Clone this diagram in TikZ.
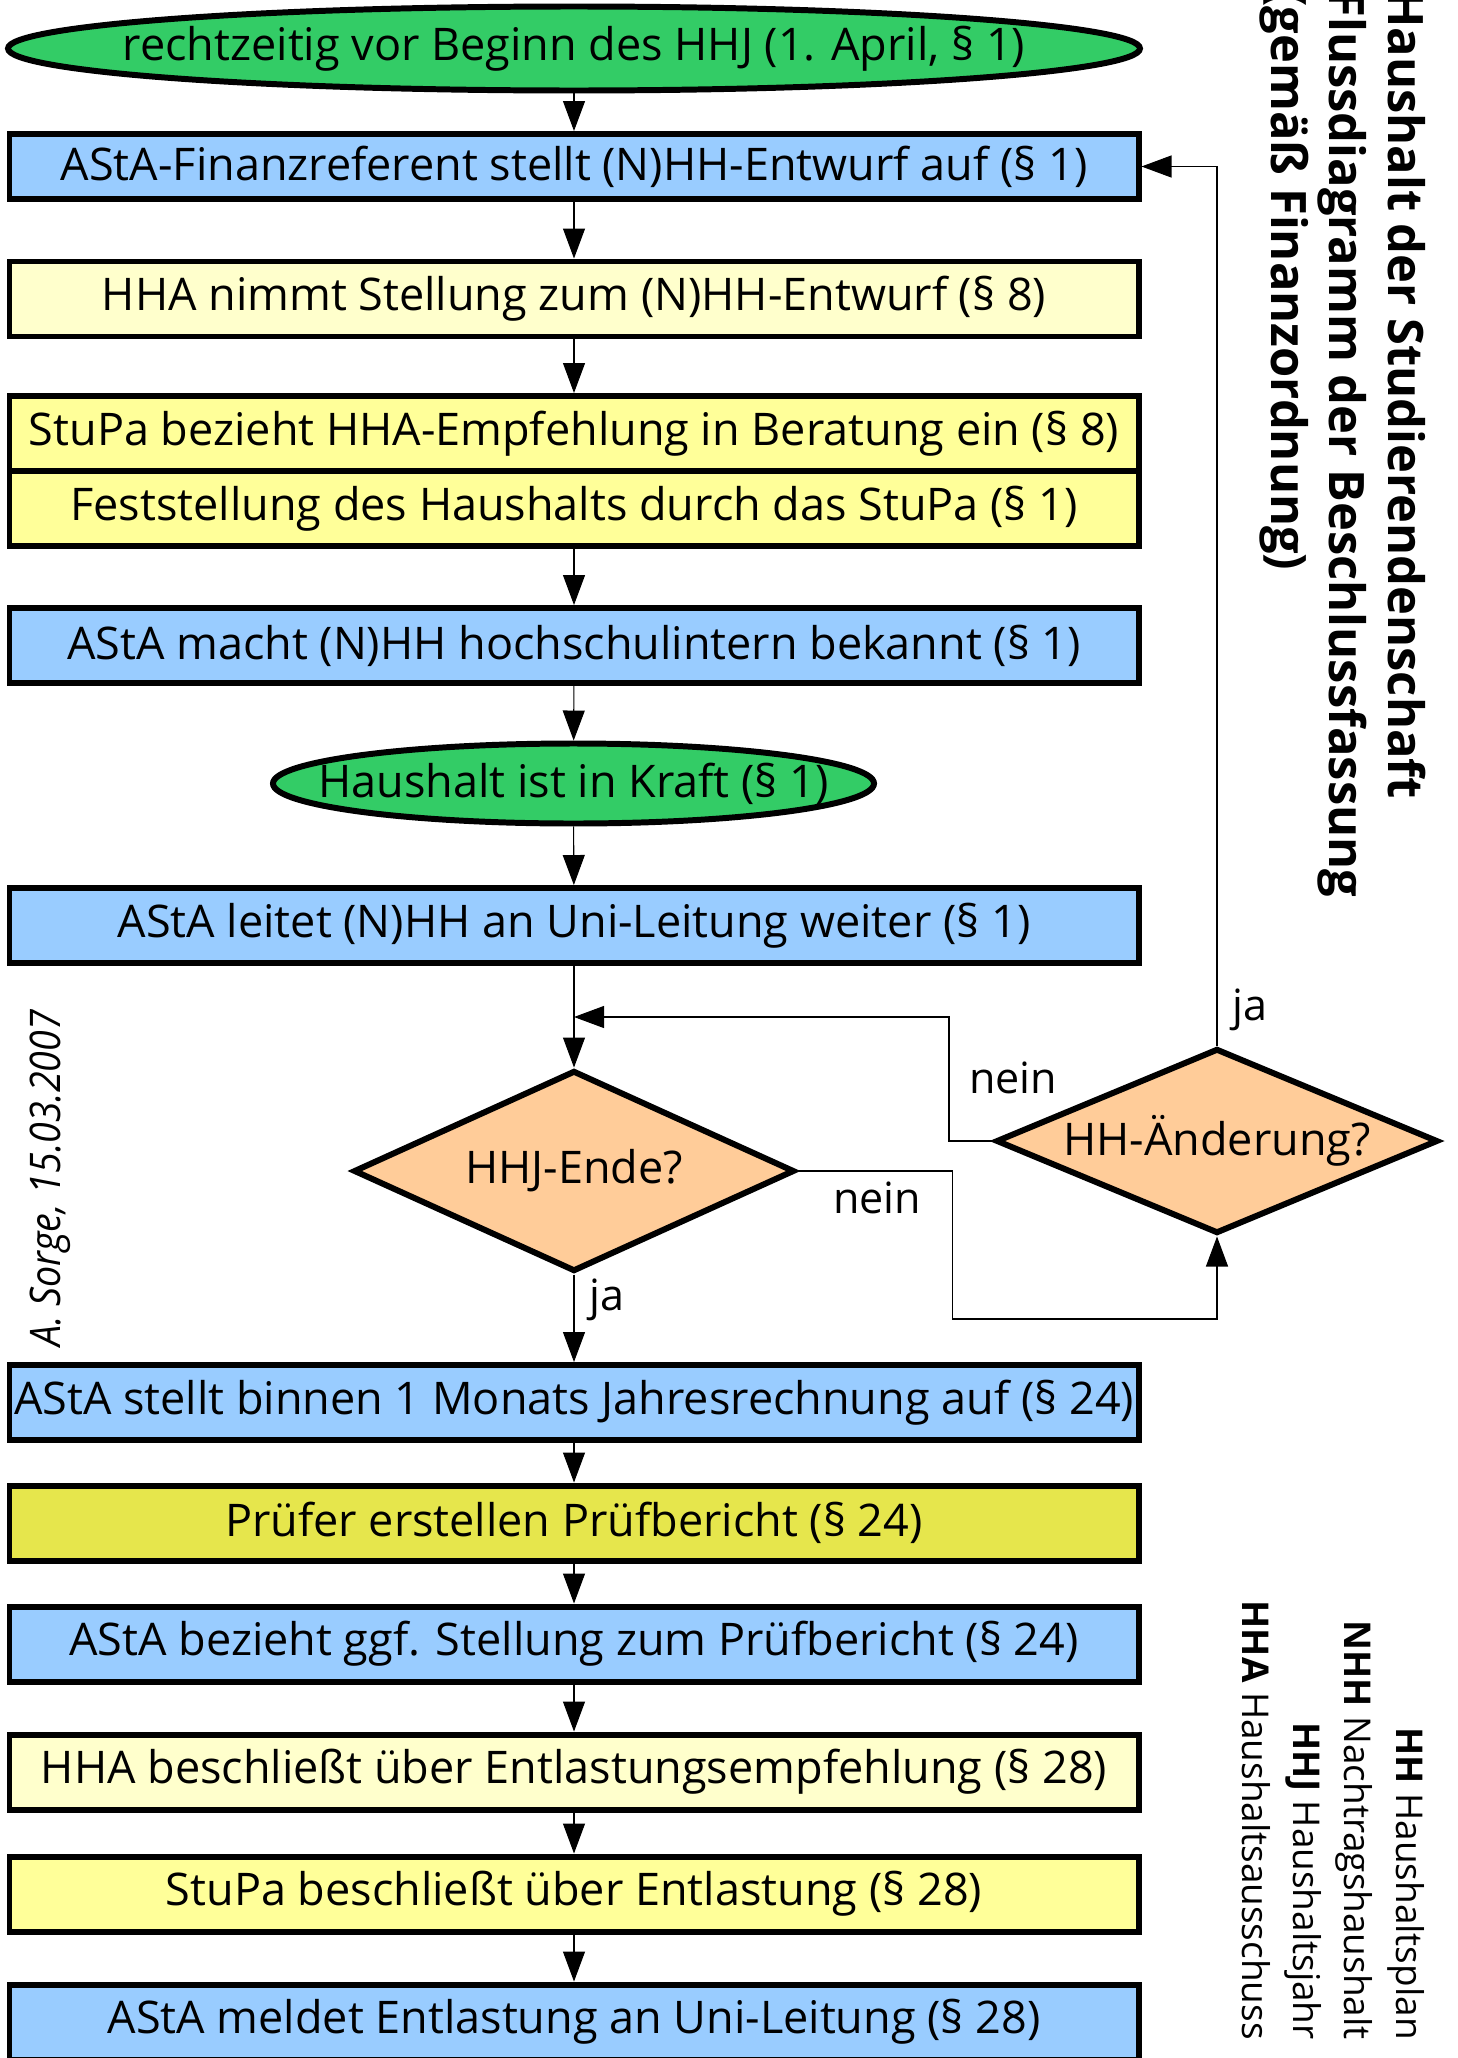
\documentclass[tikz,border=0pt]{standalone}
\usepackage{fontspec}
\setmainfont{Open Sans}
\newfontfamily\authorfont[FakeStretch=0.89]{Open Sans}
\usepackage{tikz}
\usetikzlibrary{positioning}
\usetikzlibrary{shapes.geometric}
\usetikzlibrary{arrows.meta}
\definecolor{startgreen}{HTML}{33CC66}
\definecolor{astablue}{HTML}{99CCFF}
\definecolor{hhayellow}{HTML}{FFFFCC}
\definecolor{stupayellow}{HTML}{FFFF99}
\definecolor{pruefyellow}{HTML}{E6E64C}
\definecolor{askorange}{HTML}{FFCC99}
\tikzset{
  box/.style={draw, line width=3.4pt, minimum width=22.58cm, minimum height=1.5cm,
    inner sep=0pt, font=\fontsize{25.6}{30}\selectfont},
  term/.style={ellipse, draw, line width=3.4pt, fill=startgreen, inner xsep=-3cm,
    inner ysep=-0.6cm, font=\fontsize{25.6}{30}\selectfont},
  ask/.style={diamond, draw, line width=3.4pt, fill=askorange, inner sep=0pt,
    font=\fontsize{25.6}{30}\selectfont},
  flow/.style={-{Triangle[length=0.6cm,width=0.44cm]}, line width=0.6pt},
  lbl/.style={font=\fontsize{24.5}{29}\selectfont},
  heading/.style={rotate=-90, anchor=base west, inner sep=0pt,
    font=\bfseries\fontsize{27.8}{33}\selectfont},
  legend/.style={rotate=-90, anchor=base east, inner sep=0pt,
    font=\fontsize{21}{25}\selectfont}
}

\begin{document}
\begin{tikzpicture}
\useasboundingbox (0,0) rectangle (29.14,-41.16);

% Ablauf bis zum Inkrafttreten
\node[term, minimum width=22.64cm, minimum height=1.68cm] (start) at (11.48,-0.97) {rechtzeitig vor Beginn des HHJ (1. April, § 1)};
\node[box, fill=astablue, minimum height=1.3cm] (entwurf) at (11.48,-3.33) {AStA-Finanzreferent stellt (N)HH-Entwurf auf (§ 1)};
\node[box, fill=hhayellow] (stellung) at (11.48,-5.98) {HHA nimmt Stellung zum (N)HH-Entwurf (§ 8)};
\node[box, fill=stupayellow] (beratung) at (11.48,-8.67) {StuPa bezieht HHA-Empfehlung in Beratung ein (§ 8)};
\node[box, fill=stupayellow, below=-3.4pt of beratung] (feststellung) {Feststellung des Haushalts durch das StuPa (§ 1)};
\node[box, fill=astablue] (bekannt) at (11.48,-12.91) {AStA macht (N)HH hochschulintern bekannt (§ 1)};
\node[term, minimum width=12.02cm, minimum height=1.6cm] (inkraft) at (11.47,-15.67) {Haushalt ist in Kraft (§ 1)};
\node[box, fill=astablue] (weiter) at (11.48,-18.51) {AStA leitet (N)HH an Uni-Leitung weiter (§ 1)};

% Entscheidungen
\node[ask, aspect=2.2, minimum width=8.82cm, minimum height=4.02cm] (ende) at (11.48,-23.42) {HHJ-Ende?};
\node[ask, aspect=2.4, minimum width=8.84cm, minimum height=3.7cm] (aenderung) at (24.34,-22.82) {HH-Änderung?};

% Abschluss des Haushaltsjahres
\node[box, fill=astablue] (rechnung) at (11.48,-28.05) {AStA stellt binnen 1 Monats Jahresrechnung auf (§ 24)};
\node[box, fill=pruefyellow] (pruefer) at (11.48,-30.46) {Prüfer erstellen Prüfbericht (§ 24)};
\node[box, fill=astablue] (bezieht) at (11.48,-32.88) {AStA bezieht ggf. Stellung zum Prüfbericht (§ 24)};
\node[box, fill=hhayellow] (empfehlung) at (11.48,-35.44) {HHA beschließt über Entlastungsempfehlung (§ 28)};
\node[box, fill=stupayellow] (entlastung) at (11.48,-37.88) {StuPa beschließt über Entlastung (§ 28)};
\node[box, fill=astablue] (meldet) at (11.48,-40.44) {AStA meldet Entlastung an Uni-Leitung (§ 28)};

% Verbindungen
\draw[flow] (start) -- (entwurf);
\draw[flow] (entwurf) -- (stellung);
\draw[flow] (stellung) -- (beratung);
\draw[flow] (feststellung) -- (bekannt);
\draw[flow] (bekannt) -- (inkraft);
\draw[flow] (inkraft) -- (weiter);
\draw[flow] (weiter) -- (ende);
\draw[flow] (ende) -- (rechnung);
\draw[flow] (rechnung) -- (pruefer);
\draw[flow] (pruefer) -- (bezieht);
\draw[flow] (bezieht) -- (empfehlung);
\draw[flow] (empfehlung) -- (entlastung);
\draw[flow] (entlastung) -- (meldet);

\coordinate (neinbend) at (18.98,-20.34);
\coordinate (merge) at (11.48,-20.34);
\coordinate (jabend) at (19.05,-26.38);
\draw[flow] (aenderung.north) |- (entwurf.east);
\draw[flow] (aenderung.west) -| (neinbend) -- (merge);
\draw[flow] (ende.east) -| (jabend) -| (aenderung.south);

\node[lbl] (jaoben) at (25.0,-20.2) {ja};
\node[lbl] (neinoben) at (20.26,-21.56) {nein};
\node[lbl] (neinunten) at (17.54,-23.96) {nein};
\node[lbl] (jaunten) at (12.14,-26.0) {ja};

% Titel, Legende, Autor
\node[heading] (titel1) at (27.76,0.2) {Haushalt der Studierendenschaft};
\node[heading] (titel2) at (26.58,0.2) {Flussdiagramm der Beschlussfassung};
\node[heading] (titel3) at (25.42,0.2) {(gemäß Finanzordnung)};

\node[legend] (leg1) at (27.93,-40.8) {\textbf{HH} Haushaltsplan};
\node[legend] (leg2) at (26.89,-40.8) {\textbf{NHH} Nachtragshaushalt};
\node[legend] (leg3) at (25.87,-40.8) {\textbf{HHJ} Haushaltsjahr};
\node[legend] (leg4) at (24.85,-40.8) {\textbf{HHA} Haushaltsausschuss};

\node[rotate=90, anchor=base west, inner sep=0pt, font=\authorfont\itshape\fontsize{24}{28}\selectfont] (autor) at (1.2,-26.94) {A. Sorge, 15.03.2007};
\end{tikzpicture}
\end{document}
